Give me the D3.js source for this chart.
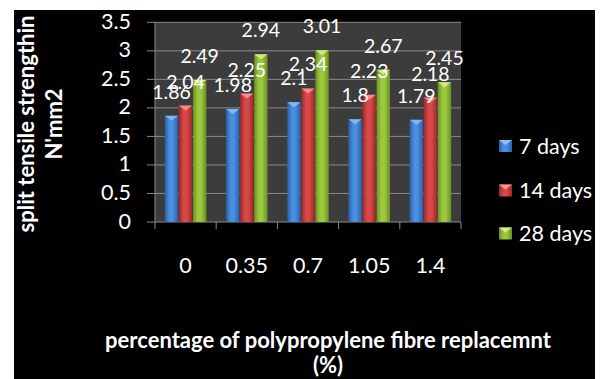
<!DOCTYPE html>
<html><head><meta charset="utf-8">
<script src="https://cdn.jsdelivr.net/npm/d3@7"></script>
<style>html,body{margin:0;padding:0;background:#fff;}svg{display:block;}</style>
</head><body>
<svg id="c" width="600" height="379"></svg>
<script>
const categories = ["0", "0.35", "0.7", "1.05", "1.4"];
const seriesNames = ["7 days", "14 days", "28 days"];
const days7 = [1.86, 1.98, 2.1, 1.8, 1.79];
const days14 = [2.04, 2.25, 2.34, 2.23, 2.18];
const days28 = [2.49, 2.94, 3.01, 2.67, 2.45];
const yTicks = [0, 0.5, 1, 1.5, 2, 2.5, 3, 3.5];
const yTitle1 = "split tensile strengthin";
const yTitle2 = "N'mm2";
const xTitle1 = "percentage of polypropylene fibre replacemnt";
const xTitle2 = "(%)";

const series = [days7, days14, days28];
const colors = [
  {mid:"#4a8ee0", dark:"#2a5fa8", light:"#8cc0f5"},
  {mid:"#d84848", dark:"#9a2828", light:"#f59a9a"},
  {mid:"#9cc840", dark:"#6a9020", light:"#d8f08a"}
];
const font = "Lato, 'Open Sans', sans-serif";

const svg = d3.select("#c");
svg.append("rect").attr("x",14).attr("y",10).attr("width",581).attr("height",369).attr("fill","#000");

const x0 = 155, x1 = 461, yTop = 22.3, yBot = 222;
const x = d3.scaleBand().domain(categories).range([x0, x1]).paddingInner(0).paddingOuter(0);
const y = d3.scaleLinear().domain([0, 3.5]).range([yBot, yTop]);
const xs = d3.scaleBand().domain(d3.range(3)).range([0, x.bandwidth()]).paddingInner(0.05).paddingOuter(0.7);

const defs = svg.append("defs");
colors.forEach((c,i)=>{
  const g = defs.append("linearGradient").attr("id","g"+i).attr("x1","0").attr("x2","1").attr("y1","0").attr("y2","0");
  g.append("stop").attr("offset","0").attr("stop-color",c.dark);
  g.append("stop").attr("offset","0.35").attr("stop-color",c.mid);
  g.append("stop").attr("offset","0.6").attr("stop-color",c.mid);
  g.append("stop").attr("offset","1").attr("stop-color",c.dark);
});

// plot background
svg.append("rect").attr("x",x0).attr("y",yTop).attr("width",x1-x0).attr("height",yBot-yTop).attr("fill","#3c3c3c");

// grid
svg.append("g").selectAll("line").data(yTicks).join("line")
  .attr("x1",x0-8).attr("x2",x1).attr("y1",d=>y(d)).attr("y2",d=>y(d))
  .attr("stroke","#8a8a8a").attr("stroke-width",1);
svg.append("line").attr("x1",x0).attr("x2",x0).attr("y1",yTop).attr("y2",yBot).attr("stroke","#8a8a8a");
// x ticks
const xt = categories.map(c=>x(c)).concat([x1]);
svg.append("g").selectAll("line").data(xt).join("line")
  .attr("x1",d=>d).attr("x2",d=>d).attr("y1",yBot).attr("y2",yBot+7).attr("stroke","#8a8a8a");

// y tick labels
svg.append("g").selectAll("text").data(yTicks).join("text")
  .attr("x",131).attr("y",d=>y(d)+6.5).attr("text-anchor","end")
  .attr("fill","#fff").attr("font-family",font).attr("font-size",21.5).text(d=>d);

// x tick labels
svg.append("g").selectAll("text").data(categories).join("text")
  .attr("x",d=>x(d)+x.bandwidth()/2).attr("y",273).attr("text-anchor","middle")
  .attr("fill","#fff").attr("font-family",font).attr("font-size",21.5).text(d=>d);

// bars
series.forEach((vals,si)=>{
  const g = svg.append("g");
  const w = xs.bandwidth();
  g.selectAll("rect").data(vals).join("rect")
    .attr("x",(d,i)=>x(categories[i])+xs(si)).attr("y",d=>y(d))
    .attr("width",w).attr("height",d=>yBot-y(d)).attr("fill","url(#g"+si+")");
  g.selectAll("path").data(vals).join("path")
    .attr("d",(d,i)=>{const bx=x(categories[i])+xs(si), by=y(d);
      return `M${bx},${by}L${bx+w},${by}L${bx+w/2},${by+5}Z`;})
    .attr("fill",colors[si].light).attr("opacity",0.85);
});
// labels
series.forEach((vals,si)=>{
  svg.append("g").selectAll("text").data(vals).join("text")
    .attr("x",(d,i)=>x(categories[i])+xs(si)+xs.bandwidth()/2).attr("y",d=>y(d)-17)
    .attr("text-anchor","middle").attr("fill","#fff").attr("font-family",font).attr("font-size",19.5)
    .text(d=>d);
});

// legend
const lg = svg.append("g");
const ly = [146, 190.5, 233.5];
seriesNames.forEach((n,i)=>{
  lg.append("rect").attr("x",499).attr("y",ly[i]-6).attr("width",13).attr("height",12).attr("fill","url(#g"+i+")");
  lg.append("path").attr("d",`M499,${ly[i]-6}L512,${ly[i]-6}L505.5,${ly[i]-1}Z`).attr("fill",colors[i].light);
  lg.append("text").attr("x",519).attr("y",ly[i]+7.5).attr("fill","#fff").attr("font-family",font)
    .attr("font-size",21.5).text(n);
});

// y title
const yt = svg.append("g").attr("transform","translate(0,124) rotate(-90)");
yt.append("text").attr("x",0).attr("y",34).attr("text-anchor","middle").attr("fill","#fff")
  .attr("font-family",font).attr("font-weight","bold").attr("font-size",22).text(yTitle1);
yt.append("text").attr("x",0).attr("y",62).attr("text-anchor","middle").attr("fill","#fff")
  .attr("font-family",font).attr("font-weight","bold").attr("font-size",22).text(yTitle2);

// x title
svg.append("text").attr("x",328).attr("y",348).attr("text-anchor","middle").attr("fill","#fff")
  .attr("font-family",font).attr("font-weight","bold").attr("font-size",22).text(xTitle1);
svg.append("text").attr("x",328).attr("y",373).attr("text-anchor","middle").attr("fill","#fff")
  .attr("font-family",font).attr("font-weight","bold").attr("font-size",22).text(xTitle2);

// white frame on top/left/right
svg.append("rect").attr("x",0).attr("y",0).attr("width",600).attr("height",10).attr("fill","#fff");
svg.append("rect").attr("x",0).attr("y",0).attr("width",14).attr("height",379).attr("fill","#fff");
svg.append("rect").attr("x",595).attr("y",0).attr("width",5).attr("height",379).attr("fill","#fff");
</script>
</body></html>
